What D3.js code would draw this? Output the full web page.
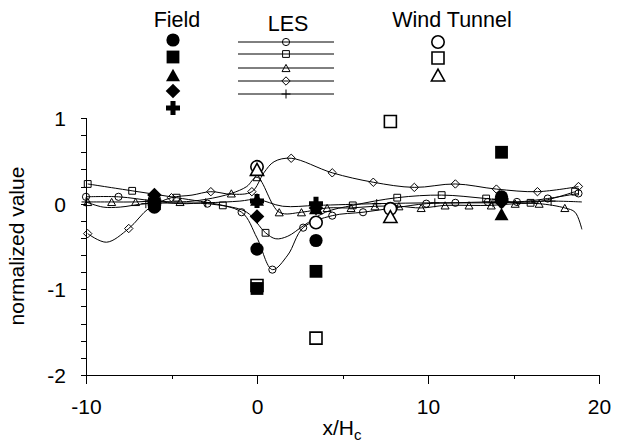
<!DOCTYPE html>
<meta charset="utf-8">
<style>
html, body { margin: 0; background: #fff; }
svg { display: block; }
text { font-family: "Liberation Sans", Arial, sans-serif; fill: #000; }
.axis path, .axis line { stroke: #000; stroke-width: 1; fill: none; shape-rendering: crispEdges; }
.axis text { font-size: 21px; }
.les { fill: none; stroke: #000; stroke-width: 1; }
</style>
<body>
<svg class="chart" width="618" height="444"></svg>
<script src="https://cdn.jsdelivr.net/npm/d3@7"></script>
<script>
// LES curves: [x, y, marker?]
var lesCircle = [[-10,0.08,1],[-8.1,0.08,1],[-6,0.03,0],[-4.5,0.0,0],[-2.9,0.0,1],[-0.9,-0.1,1],[0,-0.4,0],[0.9,-0.77,1],
  [1.8,-0.6,0],[2.7,-0.28,1],[4.4,-0.14,1],[6.2,-0.1,1],[8,-0.05,1],[9.9,0.0,1],[11.6,0.01,1],[13.5,0.02,1],[15.2,0.02,1],[17,0.06,1],[18.8,0.12,1]];
var lesSquare = [[-9.9,0.23,1],[-7.3,0.15,1],[-4.7,0.07,1],[-2.0,-0.02,1],[-0.6,-0.1,0],[0.5,-0.34,1],[1.1,-0.41,0],[1.8,-0.38,0],
  [2.7,-0.26,0],[4,-0.1,0],[5.6,-0.02,1],[8.2,0.07,1],[10.8,0.1,1],[13.4,0.06,1],[16,0.01,1],[18.6,0.14,1]];
var lesTriangle = [[-9.9,0.02,1],[-8.5,0.02,1],[-7.1,0.02,1],[-6,0.03,0],[-4.5,0.02,1],[-3,0.05,0],[-1.5,0.12,1],[-0.6,0.2,0],[0,0.31,1],
  [1.3,-0.1,1],[2.6,-0.1,1],[4.1,-0.05,1],[5.5,-0.05,1],[6.9,-0.03,1],[8.3,-0.03,1],[9.6,-0.05,1],[11,-0.02,1],[12.4,-0.02,1],
  [13.7,-0.02,1],[15.1,0.0,1],[16.5,0.0,1],[18,-0.05,1],[18.6,-0.1,0],[19,-0.3,0]];
var lesDiamond = [[-9.9,-0.35,1],[-8.8,-0.45,0],[-7.5,-0.29,1],[-6.3,-0.05,0],[-5,0.07,1],[-3.8,0.1,0],[-2.7,0.14,1],[-1.5,0.11,0],
  [-0.3,0.14,1],[0.4,0.36,0],[1.0,0.49,0],[2.0,0.53,1],[4.4,0.36,1],[6.8,0.25,1],[9.2,0.19,1],[11.6,0.23,1],[14,0.17,1],[16.4,0.14,1],[18.8,0.2,1]];
var lesPlus = [[-10,0.02,1],[-9,-0.04,0],[-8,-0.04,0],[-6.5,0.0,1],[-3,0.01,1],[-1,0.03,0],[0,0.05,1],[1.5,-0.03,0],[3.5,-0.02,1],
  [7,0.0,1],[10.4,0.01,1],[13.8,0.01,1],[17.2,0.03,1],[19,0.02,0]];

// field measurements
var fieldX = [-6, 0, 3.45, 14.3];
var fieldCircle = [-0.04, -0.53, -0.43, 0.08];
var fieldSquare = [0.0, -0.99, -0.79, 0.6];
var fieldTriangle = [0.05, 0.05, -0.05, -0.12];
var fieldDiamond = [0.1, -0.15, -0.05, 0.02];
var fieldPlus = [0.02, 0.03, 0.0, 0.04];

// wind tunnel
var wtCircleX = [0, 3.45, 7.8], wtCircle = [0.43, -0.22, -0.06];
var wtSquareX = [0, 3.45, 7.8], wtSquare = [-0.955, -1.57, 0.96];
var wtTriangleX = [0, 7.8], wtTriangle = [0.4, -0.15];

var xTicks = [-10, -5, 0, 5, 10, 15, 20];
var yLabels = [-2, -1, 0, 1];

var svg = d3.select(".chart");
var x = d3.scaleLinear().domain([-10, 20]).range([86, 599]);
var y = d3.scaleLinear().domain([-2, 1]).range([375, 118]);

function shape(type, s) {
  var h, t;
  switch (type) {
    case "circle": return "M" + s + ",0A" + s + "," + s + " 0 1,1 " + (-s) + ",0A" + s + "," + s + " 0 1,1 " + s + ",0Z";
    case "square": return "M" + (-s) + "," + (-s) + "H" + s + "V" + s + "H" + (-s) + "Z";
    case "triangle": h = s * 0.9; return "M0," + (-h) + "L" + s + "," + h + "L" + (-s) + "," + h + "Z";
    case "diamond": return "M0," + (-s) + "L" + s + ",0L0," + s + "L" + (-s) + ",0Z";
    case "cross": return "M" + (-s) + ",0H" + s + "M0," + (-s) + "V" + s;
    case "plus": t = s * 0.36;
      return "M" + (-t) + "," + (-s) + "H" + t + "V" + (-t) + "H" + s + "V" + t + "H" + t + "V" + s + "H" + (-t) + "V" + t + "H" + (-s) + "V" + (-t) + "H" + (-t) + "Z";
  }
}

var lesSize = { circle: 3.6, square: 3.4, triangle: 4, diamond: 4.2, cross: 4.5 };
var wtSize = { circle: 6.2, square: 6, triangle: 6.6 };
var fieldSize = { circle: 6.6, square: 6.4, triangle: 7, diamond: 7.3, plus: 7 };

// axes
var yAxis = d3.axisLeft(y).tickValues(d3.range(-2, 1.001, 0.2)).tickSize(5).tickFormat("");
svg.append("g").attr("class", "axis").attr("transform", "translate(86,0)").call(yAxis);
var xAxis = d3.axisBottom(x).tickValues(xTicks).tickSize(4).tickFormat("");
var gx = svg.append("g").attr("class", "axis").attr("transform", "translate(0,375)").call(xAxis);
gx.selectAll(".tick line").attr("y2", function (d) { return d % 10 === 0 ? 9 : 4; });
gx.selectAll(".tick").filter(function (d) { return d % 10 === 0; }).append("text")
  .attr("y", 39).attr("text-anchor", "middle").text(function (d) { return d; });
svg.append("g").attr("class", "axis").selectAll("text").data(yLabels).enter().append("text")
  .attr("x", 66).attr("y", function (d) { return y(d) + 8; }).attr("text-anchor", "end").text(function (d) { return d; });

svg.append("text").attr("transform", "translate(24,246) rotate(-90)").attr("text-anchor", "middle")
  .style("font-size", "21px").text("normalized value");
var xl = svg.append("text").attr("x", 342).attr("y", 435).attr("text-anchor", "middle").style("font-size", "21px");
xl.append("tspan").text("x/H");
xl.append("tspan").attr("dy", 5).style("font-size", "15px").text("c");

// LES
var line = d3.line().x(function (d) { return x(d[0]); }).y(function (d) { return y(d[1]); }).curve(d3.curveCatmullRom.alpha(0.5));
var les = [["circle", lesCircle], ["square", lesSquare], ["triangle", lesTriangle], ["diamond", lesDiamond], ["cross", lesPlus]];
les.forEach(function (s) {
  svg.append("path").attr("class", "les").attr("d", line(s[1]));
  svg.selectAll(null).data(s[1].filter(function (d) { return d[2]; })).enter().append("path")
    .attr("class", "les").attr("d", shape(s[0], lesSize[s[0]]))
    .attr("transform", function (d) { return "translate(" + x(d[0]) + "," + y(d[1]) + ")"; });
});

// wind tunnel
[["circle", wtCircleX, wtCircle], ["square", wtSquareX, wtSquare], ["triangle", wtTriangleX, wtTriangle]].forEach(function (s) {
  svg.selectAll(null).data(s[2]).enter().append("path")
    .attr("d", shape(s[0], wtSize[s[0]])).attr("fill", "#fff").attr("stroke", "#000").attr("stroke-width", 1.6)
    .attr("transform", function (d, i) { return "translate(" + x(s[1][i]) + "," + y(d) + ")"; });
});

// field
[["circle", fieldCircle], ["square", fieldSquare], ["triangle", fieldTriangle], ["diamond", fieldDiamond], ["plus", fieldPlus]].forEach(function (s) {
  svg.selectAll(null).data(s[1]).enter().append("path")
    .attr("d", shape(s[0], fieldSize[s[0]])).attr("fill", "#000")
    .attr("transform", function (d, i) { return "translate(" + x(fieldX[i]) + "," + y(d) + ")"; });
});

// legend
var lg = svg.append("g").style("font-size", "21.5px");
lg.append("text").attr("x", 177).attr("y", 27).attr("text-anchor", "middle").text("Field");
lg.append("text").attr("x", 288).attr("y", 31).attr("text-anchor", "middle").text("LES");
lg.append("text").attr("x", 452).attr("y", 27).attr("text-anchor", "middle").text("Wind Tunnel");
var fieldLegY = [40, 57, 75, 91, 108];
["circle", "square", "triangle", "diamond", "plus"].forEach(function (t, i) {
  lg.append("path").attr("d", shape(t, fieldSize[t])).attr("fill", "#000")
    .attr("transform", "translate(173," + fieldLegY[i] + ")");
});
var lesLegY = [42, 54, 68, 81, 94];
["circle", "square", "triangle", "diamond", "cross"].forEach(function (t, i) {
  lg.append("line").attr("x1", 238).attr("x2", 334).attr("y1", lesLegY[i]).attr("y2", lesLegY[i]).attr("stroke", "#000");
  lg.append("path").attr("class", "les").attr("d", shape(t, lesSize[t])).attr("transform", "translate(286," + lesLegY[i] + ")");
});
var wtLegY = [42, 58, 75];
["circle", "square", "triangle"].forEach(function (t, i) {
  lg.append("path").attr("d", shape(t, wtSize[t])).attr("fill", "#fff").attr("stroke", "#000").attr("stroke-width", 1.6)
    .attr("transform", "translate(438," + wtLegY[i] + ")");
});
</script>
</body>
